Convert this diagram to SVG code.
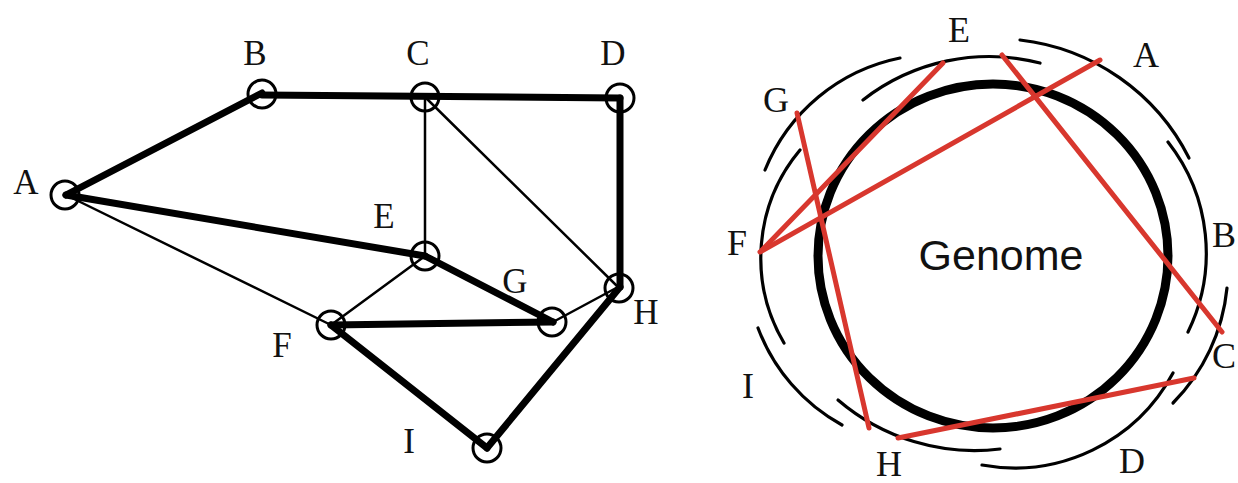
<svg xmlns="http://www.w3.org/2000/svg" width="1238" height="483" viewBox="0 0 1238 483">
<style>
  .lbl{font-family:"Liberation Serif","Times New Roman",serif;font-size:35px;fill:#111;text-anchor:middle}
  .rl{font-family:"Liberation Serif","Times New Roman",serif;font-size:36px;fill:#111;text-anchor:middle}
  .node{fill:none;stroke:#000;stroke-width:3}
  .thick{stroke:#000;stroke-width:7;stroke-linecap:round}
  .thin{stroke:#000;stroke-width:2.5;stroke-linecap:round}
  .read{fill:none;stroke:#000;stroke-width:3.2;stroke-linecap:round}
  .red{stroke:#d8372e;stroke-width:5;stroke-linecap:round}
</style>
<rect width="1238" height="483" fill="#fff"/>

<!-- Overlap graph connectors -->
<g id="connectors">
  <line class="thick" x1="66" y1="195" x2="262" y2="93"/>
  <line class="thick" x1="262" y1="95" x2="620" y2="98"/>
  <line class="thick" x1="620" y1="98" x2="620" y2="287"/>
  <line class="thick" x1="66" y1="195" x2="425" y2="256"/>
  <line class="thick" x1="425" y1="256" x2="553" y2="322"/>
  <line class="thick" x1="331" y1="325" x2="553" y2="322"/>
  <line class="thick" x1="331" y1="325" x2="487" y2="448"/>
  <line class="thick" x1="487" y1="448" x2="620" y2="287"/>
  <line class="thin" x1="425" y1="97" x2="425" y2="256"/>
  <line class="thin" x1="425" y1="97" x2="618" y2="287"/>
  <line class="thin" x1="66" y1="195" x2="331" y2="325"/>
  <line class="thin" x1="425" y1="256" x2="331" y2="325"/>
  <line class="thin" x1="553" y1="322" x2="618" y2="287"/>
</g>

<g id="node-A"><circle class="node" cx="65" cy="195" r="14"/><text class="lbl" x="26" y="194">A</text></g>
<g id="node-B"><circle class="node" cx="262" cy="94" r="14"/><text class="lbl" x="255" y="65">B</text></g>
<g id="node-C"><circle class="node" cx="425" cy="97" r="14"/><text class="lbl" x="418" y="65">C</text></g>
<g id="node-D"><circle class="node" cx="620" cy="98" r="14"/><text class="lbl" x="613" y="65">D</text></g>
<g id="node-E"><circle class="node" cx="425" cy="256" r="14"/><text class="lbl" x="384" y="228">E</text></g>
<g id="node-F"><circle class="node" cx="331" cy="325" r="14"/><text class="lbl" x="282" y="357">F</text></g>
<g id="node-G"><circle class="node" cx="552" cy="322" r="14"/><text class="lbl" x="515" y="293">G</text></g>
<g id="node-H"><circle class="node" cx="619" cy="288" r="14"/><text class="lbl" x="646" y="324">H</text></g>
<g id="node-I"><circle class="node" cx="487" cy="448" r="14"/><text class="lbl" x="409" y="453">I</text></g>

<!-- Genome with reads -->
<g id="genome">
  <ellipse cx="993" cy="256" rx="175" ry="172" fill="none" stroke="#000" stroke-width="9"/>
  <text x="1001" y="270" font-family="Liberation Sans, Arial, sans-serif" font-size="43" fill="#111" text-anchor="middle">Genome</text>
</g>
<g id="read-G"><path class="read" d="M765 170 A185 185 0 0 1 900 58"/><text class="rl" x="776" y="112">G</text></g>
<g id="read-E"><path class="read" d="M863 100 A205 205 0 0 1 1040 63"/><text class="rl" x="959" y="42">E</text></g>
<g id="read-A"><path class="read" d="M1020 40 A217 217 0 0 1 1189 158"/><text class="rl" x="1146" y="67">A</text></g>
<g id="read-B"><path class="read" d="M1168 142 A180 180 0 0 1 1188 332"/><text class="rl" x="1224" y="247">B</text></g>
<g id="read-C"><path class="read" d="M1227 288 A190 190 0 0 1 1173 403"/><text class="rl" x="1224" y="368">C</text></g>
<g id="read-D"><path class="read" d="M1173 373 A180 180 0 0 1 982 465"/><text class="rl" x="1132" y="473">D</text></g>
<g id="read-H"><path class="read" d="M1000 449 A210 210 0 0 1 838 400"/><text class="rl" x="889" y="476">H</text></g>
<g id="read-I"><path class="read" d="M842 425 A185 185 0 0 1 758 328"/><text class="rl" x="748" y="398">I</text></g>
<g id="read-F"><path class="read" d="M784 343 A168 168 0 0 1 800 150"/><text class="rl" x="737" y="255">F</text></g>

<g id="overlap-connectors">
  <line class="red" x1="943" y1="63" x2="762" y2="250"/>
  <line class="red" x1="1002" y1="55" x2="1222" y2="332"/>
  <line class="red" x1="1100" y1="60" x2="760" y2="252"/>
  <line class="red" x1="797" y1="113" x2="869" y2="428"/>
  <line class="red" x1="898" y1="438" x2="1194" y2="378"/>
</g>
</svg>
